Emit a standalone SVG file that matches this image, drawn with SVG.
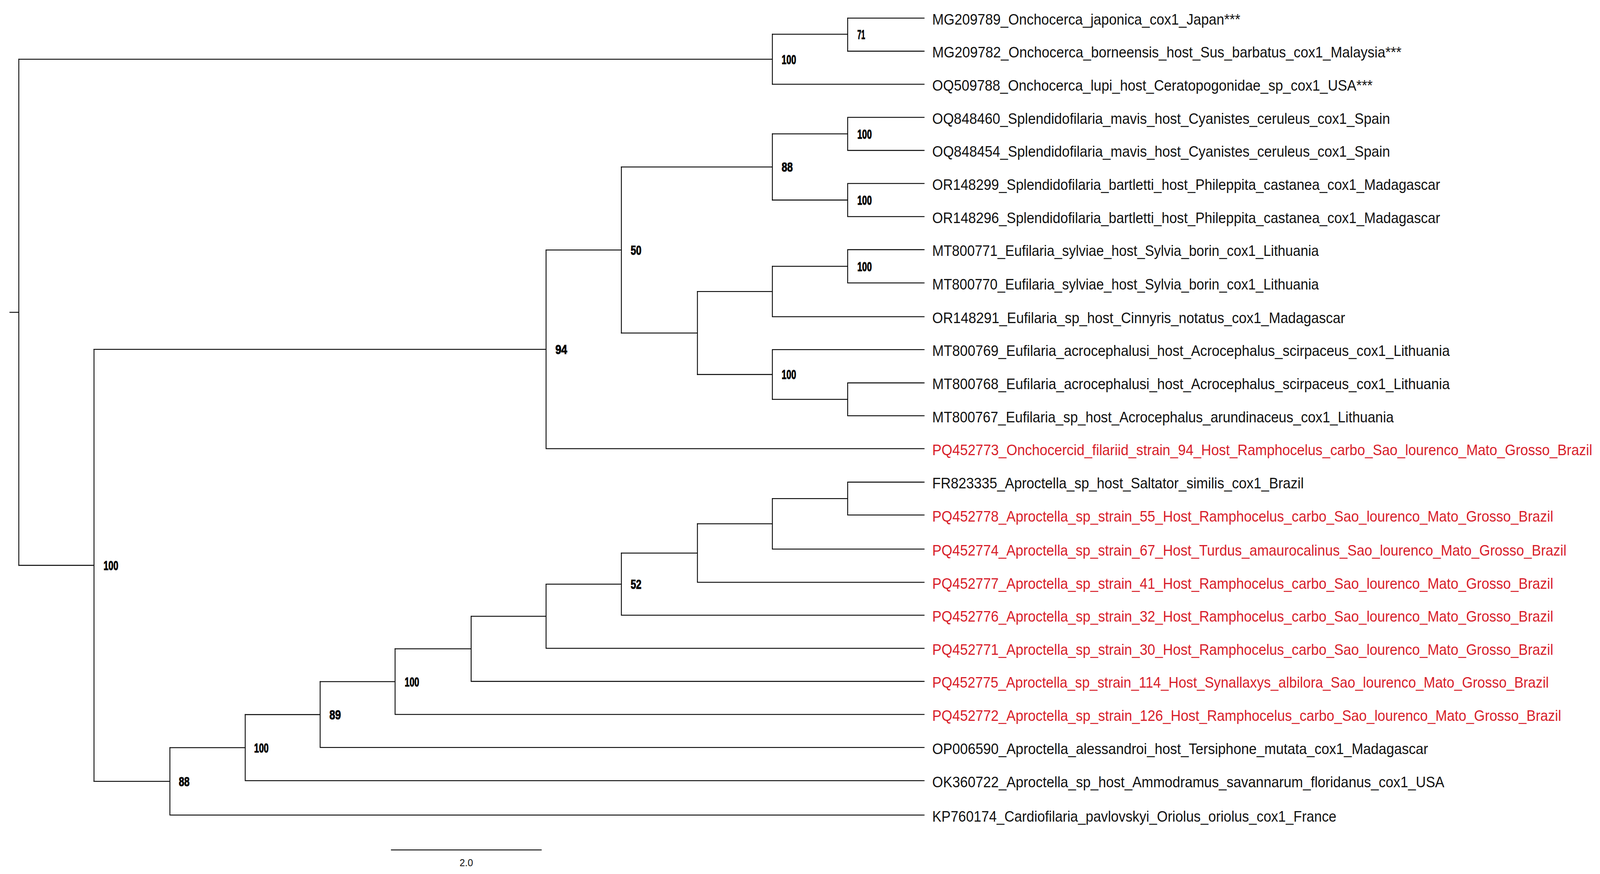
<svg xmlns="http://www.w3.org/2000/svg" width="4313" height="2237" viewBox="0 0 4313 2237" preserveAspectRatio="none" style="max-width:100vw;max-height:100vh">
<style>
.br{stroke:#000;stroke-width:2.3;fill:none;stroke-linecap:square}
.lf{font-family:"Liberation Sans",Arial,sans-serif;font-size:38px;fill:#111}
.red{fill:#d81e2a}
.bs{font-family:"Liberation Sans",Arial,sans-serif;font-weight:bold;font-size:34px;fill:#000;stroke:#000;stroke-width:1.2}
.sc{font-family:"Liberation Sans",Arial,sans-serif;font-size:26px;fill:#111}
</style>
<rect width="4313" height="2237" fill="#fff"/>
<g id="connectors" class="br">
<path d="M26.7 799.3H50.7M50.7 151.6V1447"/>
<path d="M50.7 151.6H2082M2082 87.7V215.7"/>
<path d="M2082 87.7H2285M2285 46.4V131"/>
<path d="M2285 46.4H2491M2285 131H2491M2082 215.7H2491"/>
<path d="M50.7 1447H253.4M253.4 894.2V1999.9"/>
<path d="M253.4 894.2H1472M1472 639.9V1148.4M1472 1148.4H2491"/>
<path d="M1472 639.9H1675M1675 427.4V852.3"/>
<path d="M1675 427.4H2082M2082 342.7V512"/>
<path d="M2082 342.7H2285M2285 300.4V385M2285 300.4H2491M2285 385H2491"/>
<path d="M2082 512H2285M2285 469.7V554.4M2285 469.7H2491M2285 554.4H2491"/>
<path d="M1675 852.3H1880M1880 746.2V958.5"/>
<path d="M1880 746.2H2082M2082 681.6V810.7M2082 810.7H2491"/>
<path d="M2082 681.6H2285M2285 639V724.2M2285 639H2491M2285 724.2H2491"/>
<path d="M1880 958.5H2082M2082 894.9V1022.1M2082 894.9H2491"/>
<path d="M2082 1022.1H2285M2285 980V1064.2M2285 980H2491M2285 1064.2H2491"/>
<path d="M253.4 1999.9H458M458 1913.6V2086.1M458 2086.1H2491"/>
<path d="M458 1913.6H661M661 1829V1998.2M661 1998.2H2491"/>
<path d="M661 1829H863M863 1744.7V1913.2M863 1913.2H2491"/>
<path d="M863 1744.7H1065M1065 1660.7V1828.6M1065 1828.6H2491"/>
<path d="M1065 1660.7H1270M1270 1577.3V1744M1270 1744H2491"/>
<path d="M1270 1577.3H1472M1472 1495.2V1659.3M1472 1659.3H2491"/>
<path d="M1472 1495.2H1675M1675 1415.6V1574.7M1675 1574.7H2491"/>
<path d="M1675 1415.6H1880M1880 1340.7V1490.4M1880 1490.4H2491"/>
<path d="M1880 1340.7H2082M2082 1276.1V1405.3M2082 1405.3H2491"/>
<path d="M2082 1276.1H2285M2285 1234V1318.2M2285 1234H2491M2285 1318.2H2491"/>
</g>
<g id="leaves">
<g id="leaf0"><text class="lf" x="2513" y="62.9" textLength="830.5" lengthAdjust="spacingAndGlyphs">MG209789_Onchocerca_japonica_cox1_Japan***</text></g>
<g id="leaf1"><text class="lf" x="2513" y="147.5" textLength="1265" lengthAdjust="spacingAndGlyphs">MG209782_Onchocerca_borneensis_host_Sus_barbatus_cox1_Malaysia***</text></g>
<g id="leaf2"><text class="lf" x="2513" y="232.2" textLength="1187" lengthAdjust="spacingAndGlyphs">OQ509788_Onchocerca_lupi_host_Ceratopogonidae_sp_cox1_USA***</text></g>
<g id="leaf3"><text class="lf" x="2513" y="316.9" textLength="1234" lengthAdjust="spacingAndGlyphs">OQ848460_Splendidofilaria_mavis_host_Cyanistes_ceruleus_cox1_Spain</text></g>
<g id="leaf4"><text class="lf" x="2513" y="401.5" textLength="1234" lengthAdjust="spacingAndGlyphs">OQ848454_Splendidofilaria_mavis_host_Cyanistes_ceruleus_cox1_Spain</text></g>
<g id="leaf5"><text class="lf" x="2513" y="486.2" textLength="1369" lengthAdjust="spacingAndGlyphs">OR148299_Splendidofilaria_bartletti_host_Phileppita_castanea_cox1_Madagascar</text></g>
<g id="leaf6"><text class="lf" x="2513" y="570.9" textLength="1369" lengthAdjust="spacingAndGlyphs">OR148296_Splendidofilaria_bartletti_host_Phileppita_castanea_cox1_Madagascar</text></g>
<g id="leaf7"><text class="lf" x="2513" y="655.5" textLength="1042" lengthAdjust="spacingAndGlyphs">MT800771_Eufilaria_sylviae_host_Sylvia_borin_cox1_Lithuania</text></g>
<g id="leaf8"><text class="lf" x="2513" y="740.7" textLength="1042" lengthAdjust="spacingAndGlyphs">MT800770_Eufilaria_sylviae_host_Sylvia_borin_cox1_Lithuania</text></g>
<g id="leaf9"><text class="lf" x="2513" y="827.2" textLength="1113" lengthAdjust="spacingAndGlyphs">OR148291_Eufilaria_sp_host_Cinnyris_notatus_cox1_Madagascar</text></g>
<g id="leaf10"><text class="lf" x="2513" y="911.4" textLength="1395" lengthAdjust="spacingAndGlyphs">MT800769_Eufilaria_acrocephalusi_host_Acrocephalus_scirpaceus_cox1_Lithuania</text></g>
<g id="leaf11"><text class="lf" x="2513" y="996.5" textLength="1395" lengthAdjust="spacingAndGlyphs">MT800768_Eufilaria_acrocephalusi_host_Acrocephalus_scirpaceus_cox1_Lithuania</text></g>
<g id="leaf12"><text class="lf" x="2513" y="1080.7" textLength="1244" lengthAdjust="spacingAndGlyphs">MT800767_Eufilaria_sp_host_Acrocephalus_arundinaceus_cox1_Lithuania</text></g>
<g id="leaf13"><text class="lf red" x="2513" y="1164.9" textLength="1779" lengthAdjust="spacingAndGlyphs">PQ452773_Onchocercid_filariid_strain_94_Host_Ramphocelus_carbo_Sao_lourenco_Mato_Grosso_Brazil</text></g>
<g id="leaf14"><text class="lf" x="2513" y="1250.5" textLength="1001.5" lengthAdjust="spacingAndGlyphs">FR823335_Aproctella_sp_host_Saltator_similis_cox1_Brazil</text></g>
<g id="leaf15"><text class="lf red" x="2513" y="1334.7" textLength="1674" lengthAdjust="spacingAndGlyphs">PQ452778_Aproctella_sp_strain_55_Host_Ramphocelus_carbo_Sao_lourenco_Mato_Grosso_Brazil</text></g>
<g id="leaf16"><text class="lf red" x="2513" y="1421.8" textLength="1709.6" lengthAdjust="spacingAndGlyphs">PQ452774_Aproctella_sp_strain_67_Host_Turdus_amaurocalinus_Sao_lourenco_Mato_Grosso_Brazil</text></g>
<g id="leaf17"><text class="lf red" x="2513" y="1506.9" textLength="1674" lengthAdjust="spacingAndGlyphs">PQ452777_Aproctella_sp_strain_41_Host_Ramphocelus_carbo_Sao_lourenco_Mato_Grosso_Brazil</text></g>
<g id="leaf18"><text class="lf red" x="2513" y="1591.2" textLength="1674" lengthAdjust="spacingAndGlyphs">PQ452776_Aproctella_sp_strain_32_Host_Ramphocelus_carbo_Sao_lourenco_Mato_Grosso_Brazil</text></g>
<g id="leaf19"><text class="lf red" x="2513" y="1675.8" textLength="1674" lengthAdjust="spacingAndGlyphs">PQ452771_Aproctella_sp_strain_30_Host_Ramphocelus_carbo_Sao_lourenco_Mato_Grosso_Brazil</text></g>
<g id="leaf20"><text class="lf red" x="2513" y="1760.5" textLength="1662" lengthAdjust="spacingAndGlyphs">PQ452775_Aproctella_sp_strain_114_Host_Synallaxys_albilora_Sao_lourenco_Mato_Grosso_Brazil</text></g>
<g id="leaf21"><text class="lf red" x="2513" y="1845.1" textLength="1695.4" lengthAdjust="spacingAndGlyphs">PQ452772_Aproctella_sp_strain_126_Host_Ramphocelus_carbo_Sao_lourenco_Mato_Grosso_Brazil</text></g>
<g id="leaf22"><text class="lf" x="2513" y="1929.7" textLength="1336.6" lengthAdjust="spacingAndGlyphs">OP006590_Aproctella_alessandroi_host_Tersiphone_mutata_cox1_Madagascar</text></g>
<g id="leaf23"><text class="lf" x="2513" y="2014.7" textLength="1380.5" lengthAdjust="spacingAndGlyphs">OK360722_Aproctella_sp_host_Ammodramus_savannarum_floridanus_cox1_USA</text></g>
<g id="leaf24"><text class="lf" x="2513" y="2102.6" textLength="1089.5" lengthAdjust="spacingAndGlyphs">KP760174_Cardiofilaria_pavlovskyi_Oriolus_oriolus_cox1_France</text></g>
</g>
<g id="support">
<g id="n71"><text class="bs" x="2311" y="99.7" textLength="21" lengthAdjust="spacingAndGlyphs">71</text></g>
<g id="nOnch"><text class="bs" x="2107" y="163.6" textLength="39" lengthAdjust="spacingAndGlyphs">100</text></g>
<g id="nMavis"><text class="bs" x="2311" y="354.7" textLength="39" lengthAdjust="spacingAndGlyphs">100</text></g>
<g id="nSplen"><text class="bs" x="2107" y="439.4" textLength="30" lengthAdjust="spacingAndGlyphs">88</text></g>
<g id="nBart"><text class="bs" x="2311" y="524" textLength="39" lengthAdjust="spacingAndGlyphs">100</text></g>
<g id="n50"><text class="bs" x="1700" y="651.9" textLength="29" lengthAdjust="spacingAndGlyphs">50</text></g>
<g id="nSylv"><text class="bs" x="2311" y="693.6" textLength="39" lengthAdjust="spacingAndGlyphs">100</text></g>
<g id="n94"><text class="bs" x="1497" y="906.2" textLength="32" lengthAdjust="spacingAndGlyphs">94</text></g>
<g id="nAcro"><text class="bs" x="2107" y="970.5" textLength="39" lengthAdjust="spacingAndGlyphs">100</text></g>
<g id="nBig"><text class="bs" x="279" y="1459" textLength="40" lengthAdjust="spacingAndGlyphs">100</text></g>
<g id="n52"><text class="bs" x="1700" y="1507.2" textLength="29" lengthAdjust="spacingAndGlyphs">52</text></g>
<g id="nB88"><text class="bs" x="482" y="2011.9" textLength="29" lengthAdjust="spacingAndGlyphs">88</text></g>
<g id="nB100"><text class="bs" x="685" y="1925.6" textLength="39" lengthAdjust="spacingAndGlyphs">100</text></g>
<g id="n89"><text class="bs" x="888" y="1841" textLength="31" lengthAdjust="spacingAndGlyphs">89</text></g>
<g id="nC100"><text class="bs" x="1091" y="1756.7" textLength="39" lengthAdjust="spacingAndGlyphs">100</text></g>
</g>
<g id="scalebar">
<path class="br" d="M1055 2175.4H1459"/>
<text class="sc" x="1257" y="2217" text-anchor="middle">2.0</text>
</g>
</svg>
